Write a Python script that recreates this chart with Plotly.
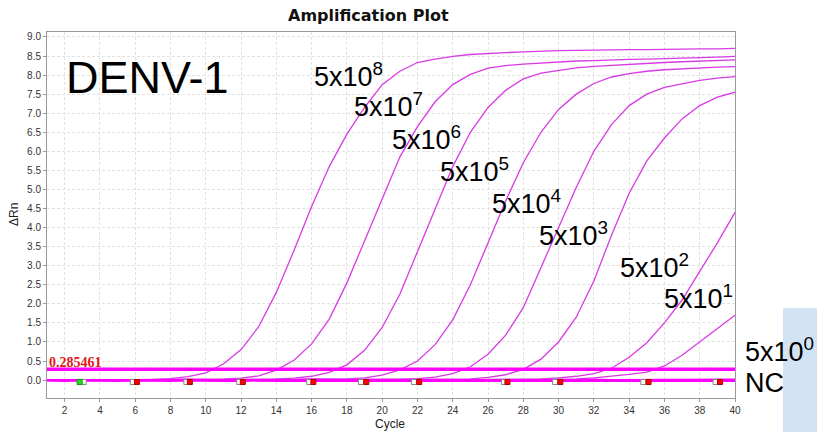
import plotly.graph_objects as go

# ---- data -------------------------------------------------------------
cycles = list(range(1, 41))

rn_5e8 = [0.00, 0.00, 0.00, 0.00, 0.01, 0.01, 0.02, 0.04, 0.09, 0.19,
          0.42, 0.80, 1.40, 2.30, 3.40, 4.55, 5.60, 6.45, 7.15, 7.75,
          8.10, 8.33, 8.42, 8.49, 8.54, 8.57, 8.59, 8.61, 8.63, 8.64,
          8.65, 8.66, 8.66, 8.67, 8.67, 8.68, 8.68, 8.69, 8.69, 8.70]
rn_5e7 = [0.00, 0.00, 0.00, 0.00, 0.00, 0.01, 0.01, 0.01, 0.02, 0.02,
          0.03, 0.05, 0.11, 0.26, 0.52, 0.95, 1.60, 2.55, 3.65, 4.80,
          5.85, 6.65, 7.30, 7.75, 8.02, 8.18, 8.25, 8.29, 8.32, 8.35,
          8.37, 8.38, 8.40, 8.41, 8.42, 8.43, 8.45, 8.46, 8.47, 8.49]
rn_5e6 = [0.00, 0.00, 0.00, 0.00, 0.00, 0.00, 0.01, 0.01, 0.01, 0.01,
          0.01, 0.02, 0.02, 0.03, 0.05, 0.10, 0.20, 0.40, 0.78, 1.38,
          2.25, 3.35, 4.50, 5.60, 6.50, 7.15, 7.60, 7.90, 8.05, 8.13,
          8.19, 8.23, 8.26, 8.29, 8.31, 8.33, 8.35, 8.37, 8.38, 8.40]
rn_5e5 = [0.00, 0.00, 0.00, 0.00, 0.00, 0.00, 0.00, 0.01, 0.01, 0.01,
          0.01, 0.01, 0.01, 0.02, 0.02, 0.02, 0.03, 0.03, 0.06, 0.13,
          0.27, 0.50, 0.93, 1.58, 2.50, 3.60, 4.70, 5.70, 6.50, 7.10,
          7.50, 7.78, 7.95, 8.04, 8.10, 8.14, 8.17, 8.19, 8.21, 8.22]
rn_5e4 = [0.00, 0.00, 0.00, 0.00, 0.00, 0.00, 0.00, 0.00, 0.01, 0.01,
          0.01, 0.01, 0.01, 0.01, 0.01, 0.02, 0.02, 0.02, 0.02, 0.02,
          0.02, 0.04, 0.08, 0.17, 0.35, 0.68, 1.18, 1.90, 2.95, 4.00,
          5.05, 6.00, 6.70, 7.20, 7.50, 7.68, 7.78, 7.86, 7.92, 7.96]
rn_5e3 = [0.00, 0.00, 0.00, 0.00, 0.00, 0.00, 0.00, 0.00, 0.00, 0.01,
          0.01, 0.01, 0.01, 0.01, 0.01, 0.01, 0.01, 0.02, 0.02, 0.02,
          0.02, 0.02, 0.02, 0.02, 0.03, 0.07, 0.14, 0.28, 0.55, 1.00,
          1.65, 2.60, 3.80, 4.90, 5.75, 6.35, 6.85, 7.20, 7.42, 7.55]
rn_5e2 = [0.00, 0.00, 0.00, 0.00, 0.00, 0.00, 0.00, 0.00, 0.00, 0.00,
          0.00, 0.00, 0.00, 0.01, 0.01, 0.01, 0.01, 0.01, 0.01, 0.01,
          0.01, 0.01, 0.01, 0.01, 0.01, 0.02, 0.02, 0.02, 0.03, 0.06,
          0.10, 0.17, 0.31, 0.60, 0.98, 1.50, 2.10, 2.85, 3.60, 4.40]
rn_5e1 = [0.00, 0.00, 0.00, 0.00, 0.00, 0.00, 0.00, 0.00, 0.00, 0.00,
          0.00, 0.00, 0.00, 0.00, 0.00, 0.00, 0.00, 0.00, 0.00, 0.00,
          0.00, 0.00, 0.01, 0.01, 0.01, 0.01, 0.01, 0.01, 0.02, 0.02,
          0.03, 0.06, 0.10, 0.15, 0.21, 0.37, 0.65, 1.00, 1.35, 1.70]
rn_5e0 = [0.00, 0.00, 0.01, 0.00, 0.00, -0.01, 0.00, 0.00, 0.01, 0.00,
          0.00, 0.00, -0.01, 0.00, 0.00, 0.01, 0.00, 0.00, 0.00, -0.01,
          0.00, 0.00, 0.00, 0.01, 0.00, 0.00, 0.00, -0.01, 0.00, 0.00,
          0.00, 0.01, 0.00, 0.00, 0.00, 0.00, 0.01, 0.00, 0.00, 0.01]
rn_nc = [-0.01, -0.02, -0.01, -0.02, -0.02, -0.01, -0.02, -0.02, -0.01, -0.02,
         -0.02, -0.02, -0.01, -0.02, -0.02, -0.02, -0.01, -0.02, -0.02, -0.02,
         -0.01, -0.02, -0.02, -0.02, -0.01, -0.02, -0.02, -0.02, -0.01, -0.02,
         -0.02, -0.02, -0.01, -0.02, -0.02, -0.02, -0.01, -0.02, -0.02, -0.02]

curves = [rn_5e8, rn_5e7, rn_5e6, rn_5e5, rn_5e4, rn_5e3, rn_5e2, rn_5e1]
curve_names = ["5x10<sup>8</sup>", "5x10<sup>7</sup>", "5x10<sup>6</sup>",
               "5x10<sup>5</sup>", "5x10<sup>4</sup>", "5x10<sup>3</sup>",
               "5x10<sup>2</sup>", "5x10<sup>1</sup>"]
flat_curves = [rn_5e0, rn_nc]
flat_names = ["5x10<sup>0</sup>", "NC"]

threshold = 0.285461

# baseline start / end flags shown under the curves
flag_selected = [2.85]
flag_start = [3.08, 5.86, 8.9, 11.9, 15.86, 18.8, 21.8, 26.9, 29.8, 34.8, 38.9]
flag_end = [6.1, 9.1, 12.1, 16.1, 19.1, 22.1, 27.1, 30.1, 35.1, 39.15]
flag_level = -0.05

x_ticks = [2, 4, 6, 8, 10, 12, 14, 16, 18, 20, 22, 24, 26, 28, 30, 32, 34, 36, 38, 40]
y_ticks = [0.0, 0.5, 1.0, 1.5, 2.0, 2.5, 3.0, 3.5, 4.0, 4.5,
           5.0, 5.5, 6.0, 6.5, 7.0, 7.5, 8.0, 8.5, 9.0]

# ---- geometry helpers -------------------------------------------------
W, H = 817, 432
ML, MR, MT, MB = 47, 82, 32, 34
PW, PH = W - ML - MR, H - MT - MB


def fx(px):
    return (px - ML) / PW


def fy(py):
    return (H - MB - py) / PH


CURVE = "#d83ae4"
BRIGHT = "#ff00ff"
SANS = "Arial, Liberation Sans, sans-serif"

fig = go.Figure()

for ys, name in zip(curves, curve_names):
    fig.add_trace(go.Scatter(x=cycles, y=ys, mode="lines", name=name,
                             line=dict(color=CURVE, width=1.3)))

for ys, name in zip(flat_curves, flat_names):
    fig.add_trace(go.Scatter(x=cycles, y=ys, mode="lines", name=name,
                             line=dict(color=BRIGHT, width=2.2)))

fig.add_trace(go.Scatter(x=[cycles[0], cycles[-1]], y=[threshold, threshold],
                         mode="lines", name="threshold",
                         line=dict(color=BRIGHT, width=3.6)))

fig.add_trace(go.Scatter(x=flag_start, y=[flag_level] * len(flag_start),
                         mode="markers",
                         marker=dict(symbol="square", size=5, color="white",
                                     line=dict(color="#888888", width=1))))
fig.add_trace(go.Scatter(x=flag_end, y=[flag_level] * len(flag_end),
                         mode="markers",
                         marker=dict(symbol="square", size=5, color="#ff0000",
                                     line=dict(color="#b00000", width=1))))
fig.add_trace(go.Scatter(x=flag_selected, y=[flag_level] * len(flag_selected),
                         mode="markers",
                         marker=dict(symbol="square", size=5, color="#22dd22",
                                     line=dict(color="#119911", width=1))))

axis_common = dict(showline=True, linecolor="#9a9a9a", linewidth=1, mirror=True,
                   showgrid=True, gridcolor="#e2e2e2", griddash="3px,2px",
                   gridwidth=1, zeroline=False, ticks="outside", ticklen=3,
                   tickcolor="#9a9a9a",
                   tickfont=dict(family=SANS, size=10, color="#333333"))

fig.update_xaxes(range=[1, 40], tickmode="array", tickvals=x_ticks, **axis_common)
fig.update_yaxes(range=[-0.47, 9.13], tickmode="array", tickvals=y_ticks,
                 tickformat=".1f", **axis_common)

annotations = [
    dict(x=fx(368), y=fy(16), text="<b>Amplification Plot</b>",
         font=dict(family="DejaVu Sans, Verdana, sans-serif", size=16, color="#111111")),
    dict(x=fx(390), y=fy(424), text="Cycle",
         font=dict(family=SANS, size=12, color="#222222")),
    dict(x=fx(14), y=fy(215), text="ΔRn", textangle=-90,
         font=dict(family=SANS, size=12, color="#222222")),
    dict(x=fx(64), y=fy(77), text="DENV-1", xanchor="left",
         font=dict(family=SANS, size=45, color="#000000")),
    dict(x=fx(47), y=fy(362), text="<b>0.285461</b>", xanchor="left",
         font=dict(family="Liberation Serif, Times New Roman, serif", size=14,
                   color="#e01818")),
]

# dilution labels: (left px, centre px) of each label
label_pos = [(312, 77), (352, 107), (390, 140), (438, 172), (490, 204),
             (537, 236), (618, 268), (662, 299), (743, 352)]
label_text = curve_names + [flat_names[0]]
for (lx, ly), txt in zip(label_pos, label_text):
    annotations.append(dict(x=fx(lx), y=fy(ly - 2), text=txt, xanchor="left",
                            font=dict(family=SANS, size=27, color="#000000")))
annotations.append(dict(x=fx(743), y=fy(383), text=flat_names[1], xanchor="left",
                        font=dict(family=SANS, size=27, color="#000000")))

for a in annotations:
    a.setdefault("xanchor", "center")
    a.setdefault("yanchor", "middle")
    a.update(xref="paper", yref="paper", showarrow=False)

fig.update_layout(
    width=W, height=H, autosize=False,
    margin=dict(l=ML, r=MR, t=MT, b=MB, pad=0),
    paper_bgcolor="white", plot_bgcolor="white",
    showlegend=False,
    annotations=annotations,
    shapes=[dict(type="rect", xref="paper", yref="paper",
                 x0=fx(783), x1=fx(830), y0=fy(308), y1=fy(440),
                 fillcolor="#d2e4f4", line=dict(width=0), layer="below")],
)

fig.write_html("out.html")
